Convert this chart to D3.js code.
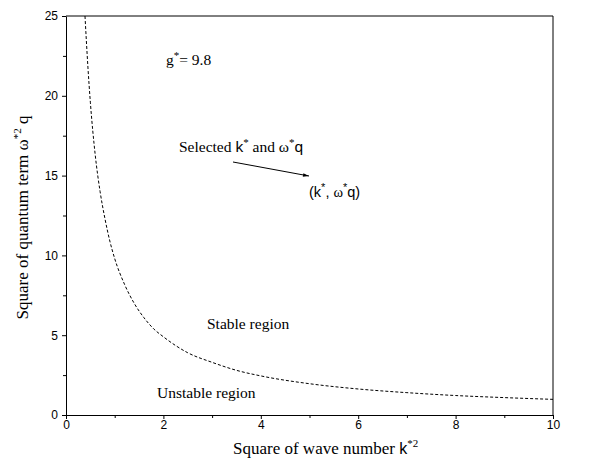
<!DOCTYPE html>
<html lang="en">
<head>
<meta charset="UTF-8">
<title>Stability curve</title>
<script src="https://d3js.org/d3.v7.min.js"></script>
<style>
  body { margin: 0; background: #fff; }
  .tick text { font-family: "Liberation Sans", Arial, sans-serif; font-size: 12px; fill: #000; }
  .serif { font-family: "Liberation Serif", "Times New Roman", serif; }
  .sans { font-family: "Liberation Sans", Arial, sans-serif; }
</style>
</head>
<body>
<div id="chart"></div>
<script>
// curve: k*^2 vs omega*q^2
const kSq = [0.39, 0.45, 0.5, 0.6, 0.7, 0.8, 0.9, 1.0, 1.2, 1.4, 1.6, 1.8, 2.0, 2.5, 3.0, 3.5, 4.0, 5.0, 6.0, 7.0, 8.0, 9.0, 10.0];
const omegaSq = [25, 21.8, 19.6, 16.3, 14.0, 12.3, 10.9, 9.8, 8.2, 7.0, 6.1, 5.4, 4.9, 3.9, 3.3, 2.8, 2.45, 1.96, 1.63, 1.4, 1.22, 1.09, 0.98];

const xTicks = [0, 2, 4, 6, 8, 10];
const xMinor = [1, 3, 5, 7, 9];
const yTicks = [0, 5, 10, 15, 20, 25];
const yMinor = [2.5, 7.5, 12.5, 17.5, 22.5];

const W = 616, H = 460;
const margin = {top: 16, right: 63, bottom: 45, left: 66};
const width = W - margin.left - margin.right,
      height = H - margin.top - margin.bottom;

const svg = d3.select("#chart").append("svg")
    .attr("width", W).attr("height", H);

const g = svg.append("g")
    .attr("transform", `translate(${margin.left},${margin.top})`);

const x = d3.scaleLinear().domain([0, 10]).range([0, width]);
const y = d3.scaleLinear().domain([0, 25]).range([height, 0]);

// minor ticks
g.append("g").attr("transform", `translate(0,${height})`)
    .call(d3.axisBottom(x).tickValues(xMinor).tickSize(3).tickFormat(""))
    .call(a => a.select(".domain").remove());
g.append("g")
    .call(d3.axisLeft(y).tickValues(yMinor).tickSize(3).tickFormat(""))
    .call(a => a.select(".domain").remove());

// major axes
g.append("g").attr("transform", `translate(0,${height})`)
    .call(d3.axisBottom(x).tickValues(xTicks).tickSize(4).tickPadding(1).tickSizeOuter(0));
g.append("g")
    .call(d3.axisLeft(y).tickValues(yTicks).tickSize(4).tickPadding(4).tickSizeOuter(0));

// top and right frame
g.append("path")
    .attr("d", `M0,0H${width}V${height}`)
    .attr("fill", "none").attr("stroke", "#000");

// curve
const pts = kSq.map((k, i) => [k, omegaSq[i]]);
g.append("path")
    .datum(pts)
    .attr("fill", "none")
    .attr("stroke", "#000")
    .attr("stroke-width", 1)
    .attr("stroke-dasharray", "3,2")
    .attr("d", d3.line().x(d => x(d[0])).y(d => y(d[1])).curve(d3.curveMonotoneX));

// annotations
const fs = 15.5;
const t1 = svg.append("text").attr("class", "serif").attr("x", 166).attr("y", 65).attr("font-size", fs);
t1.append("tspan").text("g");
t1.append("tspan").attr("dy", -6).attr("font-size", 11).text("*");
t1.append("tspan").attr("dy", 6).text("= 9.8");

const t2 = svg.append("text").attr("class", "serif").attr("x", 179).attr("y", 152).attr("font-size", fs);
t2.append("tspan").text("Selected ");
t2.append("tspan").attr("class", "sans").text("k");
t2.append("tspan").attr("dy", -6).attr("font-size", 11).text("*");
t2.append("tspan").attr("dy", 6).text(" and ω");
t2.append("tspan").attr("dy", -6).attr("font-size", 11).text("*");
t2.append("tspan").attr("dy", 6).attr("class", "sans").text("q");

svg.append("defs").append("marker")
    .attr("id", "arr").attr("viewBox", "0 0 10 10")
    .attr("refX", 10).attr("refY", 5)
    .attr("markerWidth", 8).attr("markerHeight", 6)
    .attr("orient", "auto")
    .append("path").attr("d", "M0,2L10,5L0,8Z").attr("fill", "#000");
svg.append("line")
    .attr("x1", 233).attr("y1", 162).attr("x2", 309).attr("y2", 176)
    .attr("stroke", "#000").attr("stroke-width", 1)
    .attr("marker-end", "url(#arr)");

const t3 = svg.append("text").attr("class", "sans").attr("x", 309).attr("y", 197).attr("font-size", 14.5);
t3.append("tspan").text("(k");
t3.append("tspan").attr("dy", -6).attr("font-size", 11).text("*");
t3.append("tspan").attr("dy", 6).text(", ");
t3.append("tspan").attr("class", "serif").text("ω");
t3.append("tspan").attr("dy", -6).attr("font-size", 11).text("*");
t3.append("tspan").attr("dy", 6).text("q)");

svg.append("text").attr("class", "serif").attr("x", 207).attr("y", 329)
    .attr("font-size", fs).text("Stable region");
svg.append("text").attr("class", "serif").attr("x", 157).attr("y", 398)
    .attr("font-size", fs).text("Unstable region");

// axis titles
const xt = svg.append("text").attr("class", "serif")
    .attr("x", 233).attr("y", 454)
    .attr("font-size", 17);
xt.append("tspan").text("Square of wave number ");
xt.append("tspan").attr("class", "sans").attr("font-size", 16).text("k");
xt.append("tspan").attr("dy", -7).attr("font-size", 11).text("*2");

const yt = svg.append("text").attr("class", "serif")
    .attr("transform", `translate(28,${margin.top + height / 2 + 2}) rotate(-90)`)
    .attr("text-anchor", "middle").attr("font-size", 17);
yt.append("tspan").text("Square of quantum term ω");
yt.append("tspan").attr("dy", -7).attr("font-size", 11).text("*2");
yt.append("tspan").attr("dy", 7).text(" q");
</script>
</body>
</html>
